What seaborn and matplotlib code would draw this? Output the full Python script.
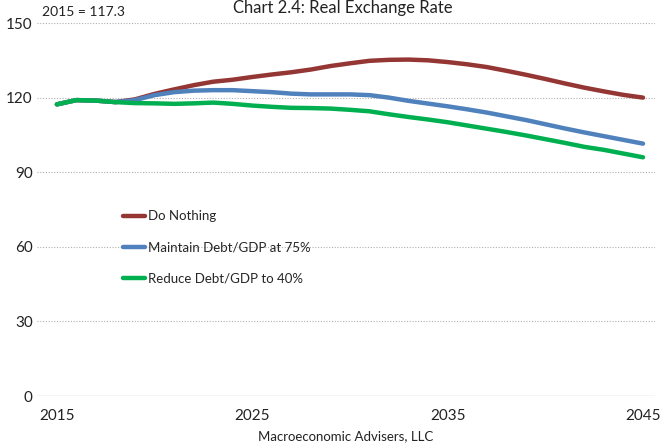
import numpy as np
import pandas as pd
import matplotlib
matplotlib.use("Agg")
import matplotlib.pyplot as plt
import seaborn as sns

years = list(range(2015, 2046))
do_nothing = [117.3, 119.0, 118.8, 118.2, 119.3, 121.5, 123.3, 125.0, 126.4, 127.2,
              128.3, 129.3, 130.2, 131.3, 132.7, 133.8, 134.8, 135.2, 135.3, 135.0,
              134.3, 133.4, 132.3, 130.8, 129.2, 127.5, 125.7, 124.0, 122.5, 121.1, 120.0]
maintain_75 = [117.3, 119.0, 118.8, 118.2, 119.0, 121.0, 122.2, 122.8, 123.0, 123.0,
               122.6, 122.2, 121.6, 121.3, 121.3, 121.3, 121.0, 120.0, 118.7, 117.6,
               116.5, 115.3, 114.0, 112.5, 111.0, 109.3, 107.6, 106.0, 104.5, 103.0, 101.5]
reduce_40 = [117.3, 119.0, 118.8, 118.2, 117.8, 117.7, 117.5, 117.7, 118.0, 117.5,
             116.8, 116.3, 115.9, 115.8, 115.6, 115.1, 114.5, 113.3, 112.2, 111.2,
             110.1, 108.8, 107.5, 106.2, 104.8, 103.3, 101.8, 100.2, 99.0, 97.5, 96.0]
series_names = ["Do Nothing", "Maintain Debt/GDP at 75%", "Reduce Debt/GDP to 40%"]
colors = ["#943634", "#4F81BD", "#00B050"]
yticks = [0, 30, 60, 90, 120, 150]
xticks = [2015, 2025, 2035, 2045]

df = pd.concat([
    pd.DataFrame({"Year": years, "Value": vals, "Scenario": name})
    for name, vals in zip(series_names, [do_nothing, maintain_75, reduce_40])
])

sns.set_theme(style="white")
plt.rcParams['font.family'] = ['Lato', 'DejaVu Sans']

fig = plt.figure(figsize=(6.6, 4.47), dpi=100)
ax = fig.add_axes([0.056, 0.114, 0.936, 0.8345])

sns.lineplot(data=df, x="Year", y="Value", hue="Scenario", hue_order=series_names,
             palette=colors, linewidth=3.2, ax=ax)

ax.set_xlim(2013.98, 2045.6)
ax.set_ylim(0, 150)
ax.set_yticks(yticks)
ax.set_xticks(xticks)
ax.set_xticklabels([str(x) for x in xticks], fontsize=11, color="#222222")
ax.set_yticklabels([str(y) for y in yticks], fontsize=11, color="#222222")
ax.tick_params(axis="x", length=0, pad=9)
ax.tick_params(axis="y", length=0, pad=3)
for y in yticks[1:]:
    ax.axhline(y, color="#b0b0b0", linestyle=(0, (1, 1.5)), linewidth=0.8, zorder=0)
ax.axhline(0, color="#cccccc", linewidth=1.0, zorder=0)
for s in ax.spines.values():
    s.set_visible(False)
ax.set_xlabel("")
ax.set_ylabel("")

leg = ax.legend(loc="upper left", bbox_to_anchor=(0.12, 0.53), frameon=False,
                fontsize=9.5, handlelength=1.7, handletextpad=0.2, labelspacing=1.45)
for line in leg.get_lines():
    line.set_linewidth(3.2)

fig.text(0.064, 0.973, "2015 = 117.3", fontsize=10, ha="left", va="center", color="#222222")
fig.text(0.52, 0.999, "Chart 2.4: Real Exchange Rate", fontsize=12, ha="center", va="top",
         color="#222222")
fig.text(0.523, 0.024, "Macroeconomic Advisers, LLC", fontsize=9.5, ha="center", va="center",
         color="#222222")

fig.savefig("out.png", dpi=100)
